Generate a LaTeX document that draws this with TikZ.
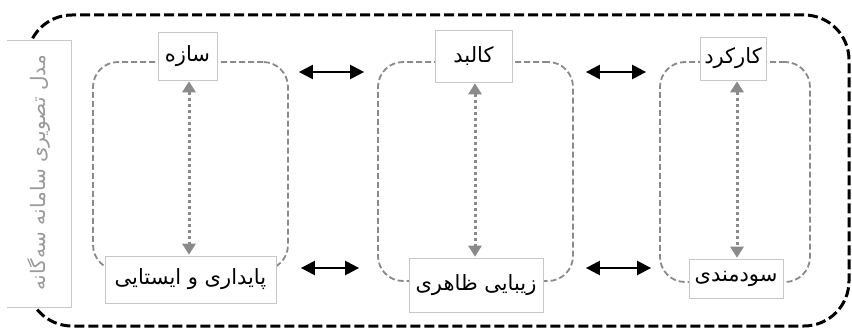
\documentclass[tikz,border=0pt]{standalone}
\usepackage{fontspec}
\usetikzlibrary{arrows.meta}
\newfontfamily\arabicfont[Script=Arabic]{DejaVu Sans}
\TeXXeTstate=1
\definecolor{framegray}{HTML}{8A8A8A}
\definecolor{boxline}{HTML}{C8C8C8}
\definecolor{sidetext}{HTML}{9A9A9A}
\tikzset{
  outerframe/.style={draw=black, line width=3pt, dash pattern=on 10pt off 4pt, rounded corners=45pt},
  groupframe/.style={draw=framegray, line width=1.8pt, dash pattern=on 6pt off 3pt, rounded corners=25pt},
  termbox/.style={draw=boxline, line width=0.6pt, fill=white, inner xsep=2pt, inner ysep=0pt,
    text=black, font=\arabicfont\fontsize{21}{24}\selectfont},
  pairlink/.style={draw=framegray, line width=3pt, dash pattern=on 3pt off 3pt,
    {Triangle[width=13pt,length=11pt]}-{Triangle[width=13pt,length=11pt]}},
  crosslink/.style={draw=black, line width=2.4pt,
    {Triangle[width=14pt,length=14pt]}-{Triangle[width=14pt,length=14pt]}}
}
\begin{document}
\begin{tikzpicture}[x=1pt,y=-1pt]
\useasboundingbox (0,0) rectangle (852,329);
% outer frame
\draw[outerframe] (27,15) rectangle (849,326);
% three groups
\node[groupframe, minimum width=195pt, minimum height=208pt] (g1) at (190.5,166) {};
\node[groupframe, minimum width=195pt, minimum height=219pt] (g2) at (475.5,171.5) {};
\node[groupframe, minimum width=150pt, minimum height=220pt] (g3) at (735,172) {};
% side caption box
\fill[white] (7,40) rectangle (71,307);
\draw[boxline, line width=0.6pt] (7,40) -- (71,40) -- (71,307) -- (7,307);
\node[rotate=90, text=sidetext, font=\arabicfont\fontsize{20}{24}\selectfont] (caption) at (39,173)
  {\beginR مدل تصویری سامانه سه‌گانه\endR};
% terms
\node[termbox, minimum width=59pt, minimum height=48pt] (saze) at (187.5,56) {\beginR سازه\endR};
\node[termbox, minimum width=171pt, minimum height=47pt] (paydari) at (190.5,279.5) {\beginR پایداری و ایستایی\endR};
\node[termbox, minimum width=77pt, minimum height=52pt] (kalbad) at (473.5,56) {\beginR کالبد\endR};
\node[termbox, minimum width=134pt, minimum height=54pt] (zibayi) at (476,285) {\beginR زیبایی ظاهری\endR};
\node[termbox, minimum width=66pt, minimum height=43pt] (karkard) at (733,58.5) {\beginR کارکرد\endR};
\node[termbox, minimum width=94pt, minimum height=39pt] (sudmandi) at (736,278.5) {\beginR سودمندی\endR};
% links inside each group
\draw[pairlink, shorten <=1pt, shorten >=1pt] ([xshift=1.5pt]saze.south) -- ([xshift=1.5pt]saze.south |- paydari.north);
\draw[pairlink, shorten <=1pt, shorten >=1pt] ([xshift=1.5pt]kalbad.south) -- ([xshift=1.5pt]kalbad.south |- zibayi.north);
\draw[pairlink, shorten <=1pt, shorten >=1pt] ([xshift=4pt]karkard.south) -- ([xshift=4pt]karkard.south |- sudmandi.north);
% links between groups
\coordinate (upper) at (0,72);
\coordinate (lower) at (0,268);
\draw[crosslink, shorten <=10pt, shorten >=13pt] (g1.east |- upper) -- (g2.west |- upper);
\draw[crosslink, shorten <=12pt, shorten >=13pt] (g2.east |- upper) -- (g3.west |- upper);
\draw[crosslink, shorten <=12pt, shorten >=18pt] (g1.east |- lower) -- (g2.west |- lower);
\draw[crosslink, shorten <=12pt, shorten >=8pt] (g2.east |- lower) -- (g3.west |- lower);
\end{tikzpicture}
\end{document}
